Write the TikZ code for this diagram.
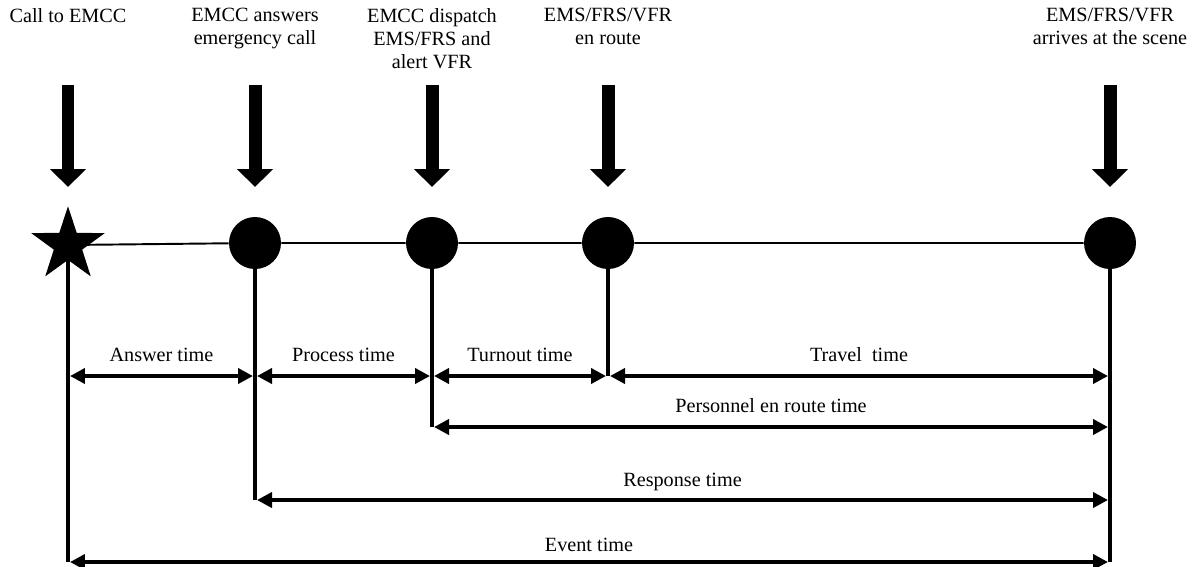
\documentclass[tikz,border=0pt]{standalone}
\usepackage{fontspec}
\setmainfont{Liberation Serif}
\usetikzlibrary{arrows.meta,calc,shapes.geometric}
\tikzset{
  every picture/.append style={line cap=butt,line join=miter},
  event dot/.style={circle,fill=black,inner sep=0pt,minimum size=1.04cm},
  event star/.style={star,star points=5,star point ratio=2.6,fill=black,inner sep=0pt,minimum size=1.55cm},
  event label/.style={align=center,anchor=north,inner sep=1pt,font=\fontsize{11.5}{13.2}\selectfont},
  event arrow/.style={line width=0.26cm,-{Triangle[width=0.7cm,length=0.36cm]}},
  time line/.style={line width=1.1pt},
  time tick/.style={line width=2.3pt},
  time span/.style={line width=2.3pt,shorten <=0.04cm,shorten >=0.04cm,
    {Triangle[width=0.3cm,length=0.3cm]}-{Triangle[width=0.3cm,length=0.3cm]}},
  span note/.style={anchor=south,yshift=#1,inner sep=1pt,font=\fontsize{11.5}{13.2}\selectfont},
  span note/.default=6pt
}

\begin{document}
\begin{tikzpicture}[x=0.02cm,y=-0.02cm]
  \useasboundingbox (0,0) rectangle (1192,566);
  % rows
  \coordinate (cap) at (0,6);
  \coordinate (top) at (0,85);
  \coordinate (tip) at (0,187);
  \coordinate (r1) at (0,376);
  \coordinate (r2) at (0,427);
  \coordinate (r3) at (0,500);
  \coordinate (r4) at (0,562);
  % events on the time line
  \node[event star] (e0) at (68,245) {};
  \node[event dot] (e1) at (255,243) {};
  \node[event dot] (e2) at (432,243) {};
  \node[event dot] (e3) at (608,243) {};
  \node[event dot] (e4) at (1110,243) {};
  \draw[time line] (e0.center) -- (e1) -- (e2) -- (e3) -- (e4);
  % captions
  \node[event label] (t0) at (e0 |- cap) {Call to EMCC};
  \node[event label] (t1) at (e1 |- cap) {EMCC answers\\emergency call};
  \node[event label] (t2) at (e2 |- cap) {EMCC dispatch\\EMS/FRS and\\alert VFR};
  \node[event label] (t3) at (e3 |- cap) {EMS/FRS/VFR\\en route};
  \node[event label] (t4) at (e4 |- cap) {EMS/FRS/VFR\\arrives at the scene};
  \foreach \n in {0,...,4}
    \draw[event arrow] (e\n |- top) -- (e\n |- tip);
  % ticks down from the events
  \draw[time tick] (e0.center) -- (e0 |- r4);
  \draw[time tick] (e1.center) -- (e1 |- r3);
  \draw[time tick] (e2.center) -- (e2 |- r2);
  \draw[time tick] (e3.center) -- (e3 |- r1);
  \draw[time tick] (e4.center) -- (e4 |- r4);
  % intervals
  \draw[time span] (e0 |- r1) -- node[span note] {Answer time} (e1 |- r1);
  \draw[time span] (e1 |- r1) -- node[span note] {Process time} (e2 |- r1);
  \draw[time span] (e2 |- r1) -- node[span note] {Turnout time} (e3 |- r1);
  \draw[time span] (e3 |- r1) -- node[span note] {Travel\ \ time} (e4 |- r1);
  \draw[time span] (e2 |- r2) -- node[span note] {Personnel en route time} (e4 |- r2);
  \draw[time span] (e1 |- r3) -- node[span note=3pt] {Response time} (e4 |- r3);
  \draw[time span] (e0 |- r4) -- node[span note=3.5pt] {Event time} (e4 |- r4);
\end{tikzpicture}
\end{document}
